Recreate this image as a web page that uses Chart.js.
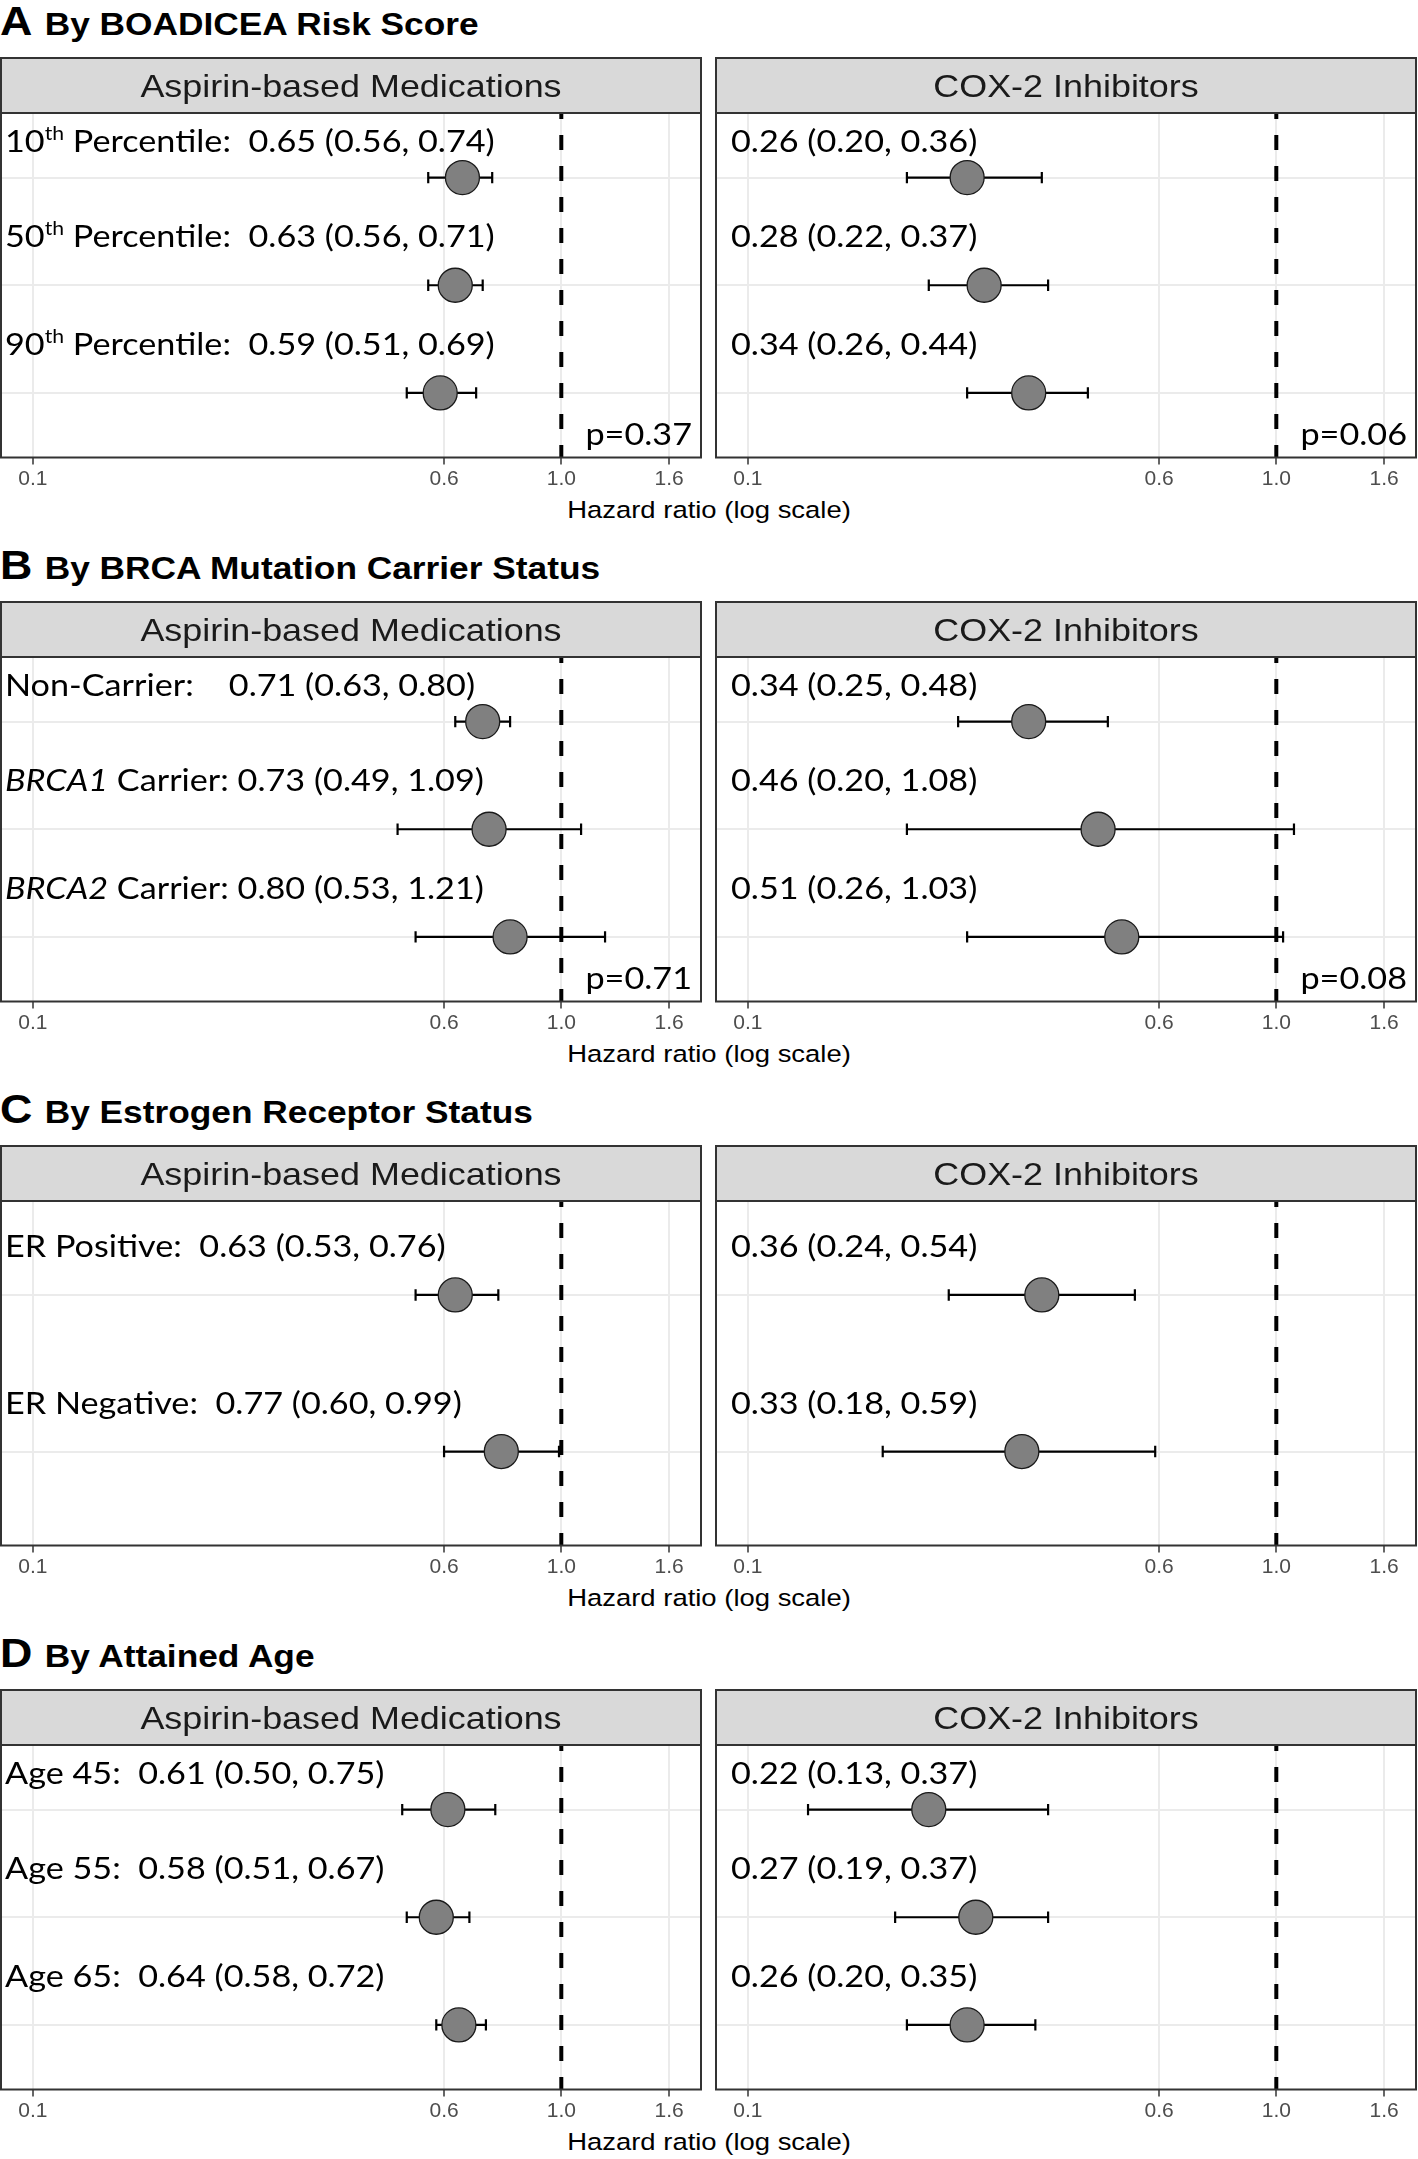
<!DOCTYPE html>
<html>
<head>
<meta charset="utf-8">
<script src="https://cdn.jsdelivr.net/npm/chart.js@4.4.1/dist/chart.umd.min.js"></script>
<style>
  body { margin: 0; background: #fff; }
  #fig { position: relative; width: 1418px; height: 2159px; background: #fff; overflow: hidden;
         font-family: "Liberation Sans", Arial, sans-serif; }
  .sec { position: absolute; left: 0; width: 1418px; height: 544px; }
  .head { position: absolute; left: 0; top: 1px; display: flex; align-items: baseline; white-space: nowrap;
          font-weight: bold; color: #000; transform-origin: 0 0; transform: scaleX(1.12); }
  .head span { line-height: 1; }
  .head .letter { font-size: 40px; margin-right: 11px; }
  .head .txt { font-size: 31.5px; }
  .xtitle { position: absolute; left: 0; width: 1418px; top: 498px; text-align: center; font-size: 24.5px;
            line-height: 1; color: #000; transform: scaleX(1.12); }
  canvas { position: absolute; top: 50px; }
</style>
</head>
<body>
<div id="fig"></div>
<script>
// x axis ticks (hazard ratio, log scale)
const tickVals = [0.1, 0.6, 1.0, 1.6];
const panelNames = ["Aspirin-based Medications", "COX-2 Inhibitors"];
const xTitle = "Hazard ratio (log scale)";

// A: BOADICEA risk score
const boadiceaCats = ["10^th Percentile:  ", "50^th Percentile:  ", "90^th Percentile:  "];
const boadiceaAsaHr = [0.65, 0.63, 0.59];
const boadiceaAsaLo = [0.56, 0.56, 0.51];
const boadiceaAsaHi = [0.74, 0.71, 0.69];
const boadiceaCoxHr = [0.26, 0.28, 0.34];
const boadiceaCoxLo = [0.20, 0.22, 0.26];
const boadiceaCoxHi = [0.36, 0.37, 0.44];
const boadiceaP = ["p=0.37", "p=0.06"];

// B: BRCA mutation carrier status
const brcaCats = ["Non-Carrier:    ", "_BRCA1_ Carrier: ", "_BRCA2_ Carrier: "];
const brcaAsaHr = [0.71, 0.73, 0.80];
const brcaAsaLo = [0.63, 0.49, 0.53];
const brcaAsaHi = [0.80, 1.09, 1.21];
const brcaCoxHr = [0.34, 0.46, 0.51];
const brcaCoxLo = [0.25, 0.20, 0.26];
const brcaCoxHi = [0.48, 1.08, 1.03];
const brcaP = ["p=0.71", "p=0.08"];

// C: estrogen receptor status
const erCats = ["ER Positive:  ", "ER Negative:  "];
const erAsaHr = [0.63, 0.77];
const erAsaLo = [0.53, 0.60];
const erAsaHi = [0.76, 0.99];
const erCoxHr = [0.36, 0.33];
const erCoxLo = [0.24, 0.18];
const erCoxHi = [0.54, 0.59];

// D: attained age
const ageCats = ["Age 45:  ", "Age 55:  ", "Age 65:  "];
const ageAsaHr = [0.61, 0.58, 0.64];
const ageAsaLo = [0.50, 0.51, 0.58];
const ageAsaHi = [0.75, 0.67, 0.72];
const ageCoxHr = [0.22, 0.27, 0.26];
const ageCoxLo = [0.13, 0.19, 0.20];
const ageCoxHi = [0.37, 0.37, 0.35];

const sections = [
  { letter: "A", title: "By BOADICEA Risk Score", cats: boadiceaCats,
    hr: [boadiceaAsaHr, boadiceaCoxHr], lo: [boadiceaAsaLo, boadiceaCoxLo], hi: [boadiceaAsaHi, boadiceaCoxHi], p: boadiceaP },
  { letter: "B", title: "By BRCA Mutation Carrier Status", cats: brcaCats,
    hr: [brcaAsaHr, brcaCoxHr], lo: [brcaAsaLo, brcaCoxLo], hi: [brcaAsaHi, brcaCoxHi], p: brcaP },
  { letter: "C", title: "By Estrogen Receptor Status", cats: erCats,
    hr: [erAsaHr, erCoxHr], lo: [erAsaLo, erCoxLo], hi: [erAsaHi, erCoxHi], p: null },
  { letter: "D", title: "By Attained Age", cats: ageCats,
    hr: [ageAsaHr, ageCoxHr], lo: [ageAsaLo, ageCoxLo], hi: [ageAsaHi, ageCoxHi], p: null },
];

const LBL = 30;      // label font size
const SX = 1.14;     // the figure's text is a bit wide
const STRIP = 55;

// "^th" -> superscript, "_x_" -> italic
function segs(s) {
  return s.split(/(\^[a-z]+|_[^_]+_)/).filter(Boolean).map(t =>
    t[0] === "^" ? { t: t.slice(1), sup: true } :
    t[0] === "_" ? { t: t.slice(1, -1), it: true } : { t: t });
}

function drawRich(ctx, parts, x, y) {
  ctx.save();
  ctx.translate(x, y);
  ctx.scale(SX, 1);
  ctx.fillStyle = "#000";
  ctx.textBaseline = "alphabetic";
  let cx = 0;
  parts.forEach(p => {
    const size = p.sup ? LBL * 0.62 : LBL;
    ctx.font = (p.it ? "italic " : "") + size + "px Lato";
    ctx.fillText(p.t, cx, p.sup ? -LBL * 0.4 : 0);
    cx += ctx.measureText(p.t).width;
  });
  ctx.restore();
}

const fmt = v => v.toFixed(2);

const deco = {
  id: "deco",
  afterDraw(chart, args, o) {
    const ctx = chart.ctx, a = chart.chartArea, x = chart.scales.x, y = chart.scales.y;
    ctx.save();
    // strip
    ctx.fillStyle = "#D9D9D9";
    ctx.fillRect(a.left, a.top - STRIP, a.width, STRIP);
    ctx.strokeStyle = "#333";
    ctx.lineWidth = 2;
    ctx.strokeRect(a.left, a.top - STRIP, a.width, STRIP);
    ctx.save();
    ctx.translate((a.left + a.right) / 2, a.top - 16.5);
    ctx.scale(SX, 1);
    ctx.font = "31.5px 'Liberation Sans'";
    ctx.fillStyle = "#1A1A1A";
    ctx.textAlign = "center";
    ctx.fillText(o.title, 0, 0);
    ctx.restore();
    // panel border
    ctx.strokeRect(a.left, a.top, a.width, a.height);
    // x tick labels
    ctx.font = "21px 'Liberation Sans'";
    ctx.fillStyle = "#4D4D4D";
    ctx.textAlign = "center";
    ctx.textBaseline = "middle";
    x.ticks.forEach(t => ctx.fillText(t.value.toFixed(1), x.getPixelForValue(t.value), a.bottom + 21.5));
    ctx.restore();
    // row labels sit above their row, kept clear of the strip
    o.labels.forEach((lab, i) => {
      const mid = Math.max(y.getPixelForValue(i + 1) - 49, a.top + 28);
      drawRich(ctx, segs(lab), a.left + o.textX, mid + 11);
    });
    if (o.p) {
      ctx.save();
      ctx.translate(a.right - 9, a.bottom - 13);
      ctx.scale(SX, 1);
      ctx.font = LBL + "px Lato";
      ctx.fillStyle = "#000";
      ctx.textAlign = "right";
      ctx.fillText(o.p, 0, 0);
      ctx.restore();
    }
  }
};

const lgLo = Math.log10(tickVals[0]), lgHi = Math.log10(tickVals[tickVals.length - 1]);
const lgPad = 0.05 * (lgHi - lgLo);

function makePanel(canvas, sec, side) {
  const hr = sec.hr[side], lo = sec.lo[side], hi = sec.hi[side];
  const n = hr.length;
  const rows = hr.map((_, i) => i + 1);
  const datasets = [{
    data: hr.map((v, i) => ({ x: v, y: rows[i] })),
    pointRadius: 17, pointHoverRadius: 17,
    pointBackgroundColor: "#808080", pointBorderColor: "#1A1A1A", pointBorderWidth: 1.3
  }];
  rows.forEach((r, i) => datasets.push({
    data: [{ x: lo[i], y: r }, { x: hi[i], y: r }],
    showLine: true, borderColor: "#000", borderWidth: 2.2,
    pointStyle: "line", pointRotation: 90, pointRadius: 5.7,
    pointBorderColor: "#000", pointBorderWidth: 2.2
  }));
  datasets.push({
    data: [{ x: 1, y: 0.4 }, { x: 1, y: n + 0.6 }],
    showLine: true, borderColor: "#000", borderWidth: 4, borderDash: [15, 16], borderDashOffset: 9,
    pointRadius: 0
  });

  const labels = hr.map((v, i) =>
    (side === 0 ? sec.cats[i] : "") + fmt(v) + " (" + fmt(lo[i]) + ", " + fmt(hi[i]) + ")");

  return new Chart(canvas, {
    type: "scatter",
    data: { datasets },
    options: {
      responsive: false, animation: false, devicePixelRatio: 1,
      layout: { autoPadding: false, padding: { top: 63, left: side === 0 ? 1 : 2, right: 2, bottom: 35.5 } },
      plugins: {
        legend: { display: false }, tooltip: { enabled: false },
        deco: { title: panelNames[side], labels, textX: side === 0 ? 4 : 15, p: sec.p ? sec.p[side] : null }
      },
      scales: {
        x: {
          type: "logarithmic",
          min: Math.pow(10, lgLo - lgPad), max: Math.pow(10, lgHi + lgPad),
          afterBuildTicks: s => { s.ticks = tickVals.map(v => ({ value: v })); },
          ticks: { display: false },
          grid: { color: "#EBEBEB", lineWidth: 2, tickColor: "#333", tickLength: 7, tickWidth: 1.5 },
          border: { display: false }
        },
        y: {
          type: "linear", reverse: true, min: 0.4, max: n + 0.6,
          afterBuildTicks: s => { s.ticks = rows.map(v => ({ value: v })); },
          afterFit: s => { s.width = 0; },
          ticks: { display: false },
          grid: { color: "#EBEBEB", lineWidth: 2, drawTicks: false },
          border: { display: false }
        }
      }
    },
    plugins: [deco]
  });
}

const fig = document.getElementById("fig");
sections.forEach((sec, k) => {
  const el = document.createElement("div");
  el.className = "sec";
  el.style.top = (k * 544) + "px";
  el.innerHTML = '<div class="head"><span class="letter">' + sec.letter + '</span><span class="txt">' +
    sec.title + '</span></div><div class="xtitle">' + xTitle + '</div>';
  fig.appendChild(el);
  [[0, 703], [714, 704]].forEach(([left, w], side) => {
    const c = document.createElement("canvas");
    c.width = w; c.height = 450;
    c.style.left = left + "px";
    el.appendChild(c);
    makePanel(c, sec, side);
  });
});
</script>
</body>
</html>
